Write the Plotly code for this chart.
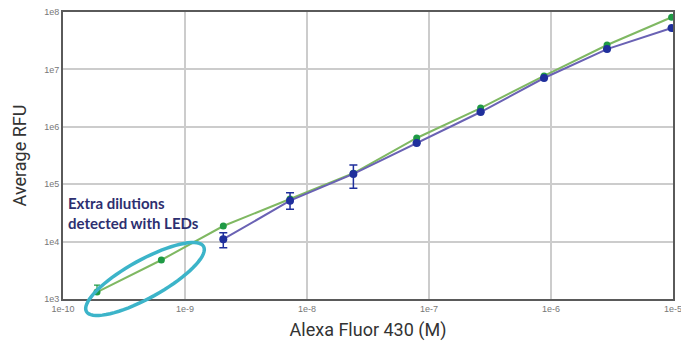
import numpy as np
import plotly.graph_objects as go

# ---- data ----
conc_green = [1.9e-10, 6.4e-10, 2.06e-9, 7.26e-9, 2.4e-8, 7.93e-8, 2.65e-7, 8.77e-7, 2.88e-6, 9.75e-6]
rfu_green = [1.32e3, 4.78e3, 1.87e4, 5.5e4, 1.55e5, 6.38e5, 2.12e6, 7.68e6, 2.66e7, 8.09e7]
err_green_plus = [430, 0, 0, 0, 0, 0, 0, 0, 0, 0]
err_green_minus = [0, 0, 0, 0, 0, 0, 0, 0, 0, 0]

conc_blue = [2.06e-9, 7.26e-9, 2.4e-8, 7.93e-8, 2.65e-7, 8.77e-7, 2.88e-6, 9.75e-6]
rfu_blue = [1.1e4, 5.16e4, 1.51e5, 5.2e5, 1.81e6, 7.08e6, 2.26e7, 5.26e7]
err_blue_plus = [3.3e3, 1.94e4, 6.5e4, 0, 0, 0, 0, 0]
err_blue_minus = [3.2e3, 1.51e4, 6.6e4, 0, 0, 0, 0, 0]

x_tickvals = [1e-10, 1e-9, 1e-8, 1e-7, 1e-6, 1e-5]
x_ticktext = ["1e-10", "1e-9", "1e-8", "1e-7", "1e-6", "1e-5"]
y_tickvals = [1e3, 1e4, 1e5, 1e6, 1e7, 1e8]
y_ticktext = ["1e3", "1e4", "1e5", "1e6", "1e7", "1e8"]

# page has an 8px body margin; compensate so the plot lands where the reference has it
OFF = 8
W, H = 689 - OFF, 346 - OFF
L, R, T, B = 63 - OFF, 16, 12 - OFF, 47

fig = go.Figure()
fig.add_trace(go.Scatter(
    x=conc_green, y=rfu_green, mode="lines+markers",
    line=dict(color="#7fb862", width=2),
    marker=dict(color="#1f9a45", size=7, symbol="circle"),
    error_y=dict(type="data", symmetric=False, array=err_green_plus, arrayminus=err_green_minus,
                 color="#1f9a45", thickness=1.2, width=3),
    showlegend=False,
))
fig.add_trace(go.Scatter(
    x=conc_blue, y=rfu_blue, mode="lines+markers",
    line=dict(color="#6a62b4", width=2),
    marker=dict(color="#1f2f9c", size=8, symbol="circle"),
    error_y=dict(type="data", symmetric=False, array=err_blue_plus, arrayminus=err_blue_minus,
                 color="#1f2f9c", thickness=1.5, width=4),
    showlegend=False,
))

# ellipse highlight, defined in page pixels then mapped to paper coords
pw, ph = W - L - R, H - T - B
x_left_page, y_bottom_page = L + OFF, H - B + OFF
cx, cy, a, b, ang = 145.0, 279.0, 67.0, 19.0, np.deg2rad(29)
t = np.linspace(0, 2 * np.pi, 73)
px = cx + a * np.cos(t) * np.cos(ang) + b * np.sin(t) * np.sin(ang)
py = cy - a * np.cos(t) * np.sin(ang) + b * np.sin(t) * np.cos(ang)
ux = (px - x_left_page) / pw
uy = (y_bottom_page - py) / ph
path = "M " + " L ".join(f"{x:.4f},{y:.4f}" for x, y in zip(ux, uy)) + " Z"
fig.add_shape(type="path", path=path, xref="paper", yref="paper",
              line=dict(color="#3cb4c9", width=3.5), layer="above")

fig.add_annotation(text="<b>Extra dilutions<br>detected with LEDs</b>", xref="paper", yref="paper",
                   x=(66 - x_left_page) / pw, y=(y_bottom_page - 192) / ph, xanchor="left", yanchor="top",
                   showarrow=False, align="left",
                   font=dict(family="Lato", size=15, color="#2d2f70"))

fig.update_xaxes(type="log", range=[-10, -5], tickvals=x_tickvals, ticktext=x_ticktext,
                 showgrid=True, gridcolor="#cccccc", gridwidth=2,
                 showline=True, linecolor="#5a5a5a", linewidth=2, mirror=True,
                 ticks="", tickfont=dict(family="Liberation Sans", size=9, color="#777777"),
                 ticklabeloverflow="allow",
                 title=dict(text="Alexa Fluor 430 (M)", font=dict(family="Roboto", size=18, color="#333333"),
                            standoff=11),
                 automargin=False, zeroline=False)
fig.update_yaxes(type="log", range=[3, 8], tickvals=y_tickvals, ticktext=y_ticktext,
                 showgrid=True, gridcolor="#cccccc", gridwidth=2,
                 showline=True, linecolor="#5a5a5a", linewidth=2, mirror=True,
                 ticks="", tickfont=dict(family="Liberation Sans", size=9, color="#777777"),
                 ticklabeloverflow="allow",
                 title=dict(text="Average RFU", font=dict(family="Roboto", size=18, color="#333333"),
                            standoff=13),
                 automargin=False, zeroline=False)

fig.update_layout(width=W, height=H, margin=dict(l=L, r=R, t=T, b=B),
                  paper_bgcolor="white", plot_bgcolor="white")

fig.write_html("out.html")
